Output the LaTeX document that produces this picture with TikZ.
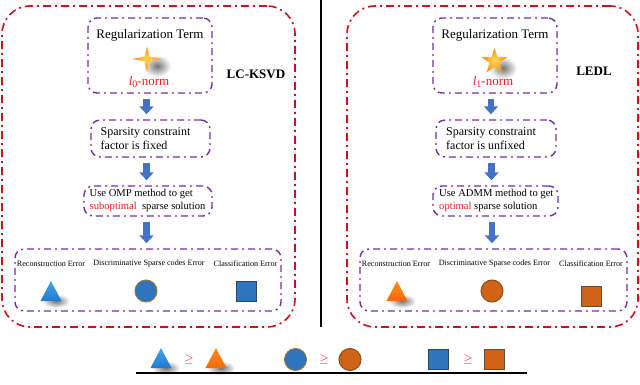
\documentclass[tikz,border=0pt]{standalone}
\usepackage{fontspec}
\setmainfont{Liberation Serif}
\usetikzlibrary{arrows.meta,fadings}
\definecolor{dred}{RGB}{205,16,28}
\definecolor{dpurple}{RGB}{112,48,160}
\definecolor{arrblue}{RGB}{68,114,196}
\definecolor{txtred}{RGB}{238,28,36}
\definecolor{tribluetop}{RGB}{70,165,235}
\definecolor{triblue}{RGB}{35,120,205}
\definecolor{triorangetop}{RGB}{255,140,30}
\definecolor{triorange}{RGB}{240,105,10}
\definecolor{cblue}{RGB}{46,117,190}
\definecolor{cblueedge}{RGB}{150,120,60}
\definecolor{sqblueedge}{RGB}{40,70,100}
\definecolor{corange}{RGB}{210,98,24}
\definecolor{coredge}{RGB}{130,80,30}
\definecolor{sqoredge}{RGB}{90,80,60}
\definecolor{staryellow}{RGB}{255,220,80}
\definecolor{starorange}{RGB}{250,140,30}
\tikzfading[name=softfade, inner color=transparent!0, outer color=transparent!100]
\tikzset{
  x=1pt,y=-1pt,
  redbox/.style={draw=dred, line width=1.6pt, dash pattern=on 8pt off 4pt on 2pt off 4pt, rounded corners=28pt, inner sep=0pt},
  purplebox/.style={draw=dpurple, line width=1.4pt, dash pattern=on 7pt off 4pt on 2pt off 4pt, rounded corners=9pt, inner sep=0pt},
  titletxt/.style={font=\fontsize{13}{15}\selectfont, inner sep=0pt},
  normtxt/.style={font=\fontsize{13}{15}\selectfont, text=txtred, inner sep=0pt},
  methodtxt/.style={font=\bfseries\fontsize{13}{15}\selectfont, inner sep=0pt},
  sptxt/.style={font=\fontsize{12}{14}\selectfont, align=left, anchor=west, inner sep=0pt},
  soltxt/.style={font=\fontsize{10.6}{12.5}\selectfont, align=left, anchor=west, inner sep=0pt},
  errtxt/.style={font=\fontsize{8.1}{10}\selectfont, inner sep=0pt},
  geqtxt/.style={text=txtred, font=\fontsize{12}{12}\selectfont, inner sep=0pt},
  blockarrow/.style={draw=arrblue, line width=6.5pt, -{Triangle[width=14pt,length=8pt]}, shorten <=5pt, shorten >=5pt},
  softshadow/.style={fill=black, fill opacity=0.55, path fading=softfade},
}
\newcommand\bluetri[2]{%
  \fill[softshadow] (#1+5,#2+10) ellipse (14 and 7);
  \shade[top color=tribluetop, bottom color=triblue] (#1-10.5,#2+10) -- (#1+10.5,#2+10) -- (#1,#2-10) -- cycle;}
\newcommand\orangetri[2]{%
  \fill[softshadow] (#1+5,#2+10) ellipse (14 and 7);
  \shade[top color=triorangetop, bottom color=triorange] (#1-10.5,#2+10) -- (#1+10.5,#2+10) -- (#1,#2-10) -- cycle;}
\newcommand\bluecirc[2]{\filldraw[fill=cblue, draw=cblueedge, line width=1pt] (#1,#2) circle (11);}
\newcommand\orangecirc[2]{\filldraw[fill=corange, draw=coredge, line width=1pt] (#1,#2) circle (11);}
\newcommand\bluesq[2]{\filldraw[fill=cblue, draw=sqblueedge, line width=1pt] (#1-10,#2-10) rectangle (#1+10,#2+10);}
\newcommand\orangesq[2]{\filldraw[fill=corange, draw=sqoredge, line width=1pt] (#1-10,#2-10) rectangle (#1+10,#2+10);}
\begin{document}
\begin{tikzpicture}
\useasboundingbox (0,0) rectangle (640,385);
% vertical divider and bottom line
\coordinate (vtop) at (321,0);
\coordinate (vbot) at (321,327);
\draw[black, line width=1.6pt] (vtop) -- (vbot);
\coordinate (hl) at (136,373);
\coordinate (hr) at (527,373);
\draw[black, line width=2pt] (hl) -- (hr);

% ===== LEFT =====
\node[redbox, minimum width=293pt, minimum height=321pt] (outL) at (148.5,166.5) {};
\node[purplebox, minimum width=124pt, minimum height=75pt] (regL) at (150,55.5) {};
\node[titletxt] (rtL) at (150,35) {Regularization Term};
\fill[softshadow] (157,66) ellipse (14 and 11);
\shade[inner color=staryellow, outer color=starorange]
  (147,46.5) -- (149.5,56.5) -- (162,59) -- (149.5,61.5) -- (147,72) -- (144.5,61.5) -- (132,59) -- (144.5,56.5) -- cycle;
\node[normtxt] (nL) at (149,82) {{\itshape l}\raisebox{-0.35ex}{\fontsize{10}{10}\selectfont 0}-norm};
\node[methodtxt] (mL) at (256,74) {LC-KSVD};

\node[purplebox, minimum width=119pt, minimum height=37pt] (spL) at (150.5,138.5) {};
\node[sptxt] (spLt) at (100.5,139) {Sparsity constraint\\factor is fixed};

\node[purplebox, minimum width=128pt, minimum height=30pt] (ompL) at (148,201) {};
\node[soltxt] (ompLt) at (89.5,200.5) {Use OMP method to get\\{\color{txtred}suboptimal}\ \ sparse solution};

\node[purplebox, minimum width=266pt, minimum height=62pt] (errL) at (148,280) {};
\node[errtxt] (e1L) at (51,264) {Reconstruction Error};
\node[errtxt] (e2L) at (149,264) {Discriminative Sparse codes Error};
\node[errtxt] (e3L) at (245.5,264) {Classification Error};
\bluetri{51}{291}
\bluecirc{146}{291}
\bluesq{246}{291}

\draw[blockarrow] ([xshift=-3.5pt]regL.south) -- ([xshift=-3.5pt]regL.south |- spL.north);
\draw[blockarrow] ([xshift=-4pt]spL.south) -- ([xshift=-4pt]spL.south |- ompL.north);
\draw[blockarrow] ([xshift=-1.5pt]ompL.south) -- ([xshift=-1.5pt]ompL.south |- errL.north);

% ===== RIGHT =====
\node[redbox, minimum width=291pt, minimum height=321pt] (outR) at (492.5,166.5) {};
\node[purplebox, minimum width=124pt, minimum height=75pt] (regR) at (495,55.5) {};
\node[titletxt] (rtR) at (495,35) {Regularization Term};
\fill[softshadow] (503,68) ellipse (14 and 11);
\shade[inner color=staryellow, outer color=starorange]
  (494.5,48) -- (497.6,57.2) -- (507.3,57.2) -- (499.5,63) -- (502.4,72.5) -- (494.5,66.8) -- (486.6,72.5) -- (489.5,63) -- (481.7,57.2) -- (491.4,57.2) -- cycle;
\node[normtxt] (nR) at (493,82) {{\itshape l}\raisebox{-0.35ex}{\fontsize{10}{10}\selectfont 1}-norm};
\node[methodtxt] (mR) at (594,71) {LEDL};

\node[purplebox, minimum width=120pt, minimum height=37pt] (spR) at (496,138.5) {};
\node[sptxt] (spRt) at (446,139) {Sparsity constraint\\factor is unfixed};

\node[purplebox, minimum width=125pt, minimum height=30pt] (ompR) at (495.5,201) {};
\node[soltxt] (ompRt) at (439,200.5) {Use ADMM method to get\\{\color{txtred}optimal} sparse solution};

\node[purplebox, minimum width=267pt, minimum height=62pt] (errR) at (493.5,280) {};
\node[errtxt] (e1R) at (396,264) {Reconstruction Error};
\node[errtxt] (e2R) at (494.5,264) {Discriminative Sparse codes Error};
\node[errtxt] (e3R) at (591,264) {Classification Error};
\orangetri{397}{291}
\orangecirc{492}{291}
\orangesq{591}{296}

\draw[blockarrow] ([xshift=-4pt]regR.south) -- ([xshift=-4pt]regR.south |- spR.north);
\draw[blockarrow] ([xshift=-4.5pt]spR.south) -- ([xshift=-4.5pt]spR.south |- ompR.north);
\draw[blockarrow] ([xshift=-3.5pt]ompR.south) -- ([xshift=-3.5pt]ompR.south |- errR.north);

% ===== BOTTOM COMPARISON =====
\bluetri{161}{358}
\node[geqtxt] (g1) at (189,359) {$\geq$};
\orangetri{216}{358}
\bluecirc{295.5}{359.5}
\node[geqtxt] (g2) at (324,359) {$\geq$};
\orangecirc{350}{359.5}
\bluesq{438}{359}
\node[geqtxt] (g3) at (468,359) {$\geq$};
\orangesq{494.5}{359}
\end{tikzpicture}
\end{document}
